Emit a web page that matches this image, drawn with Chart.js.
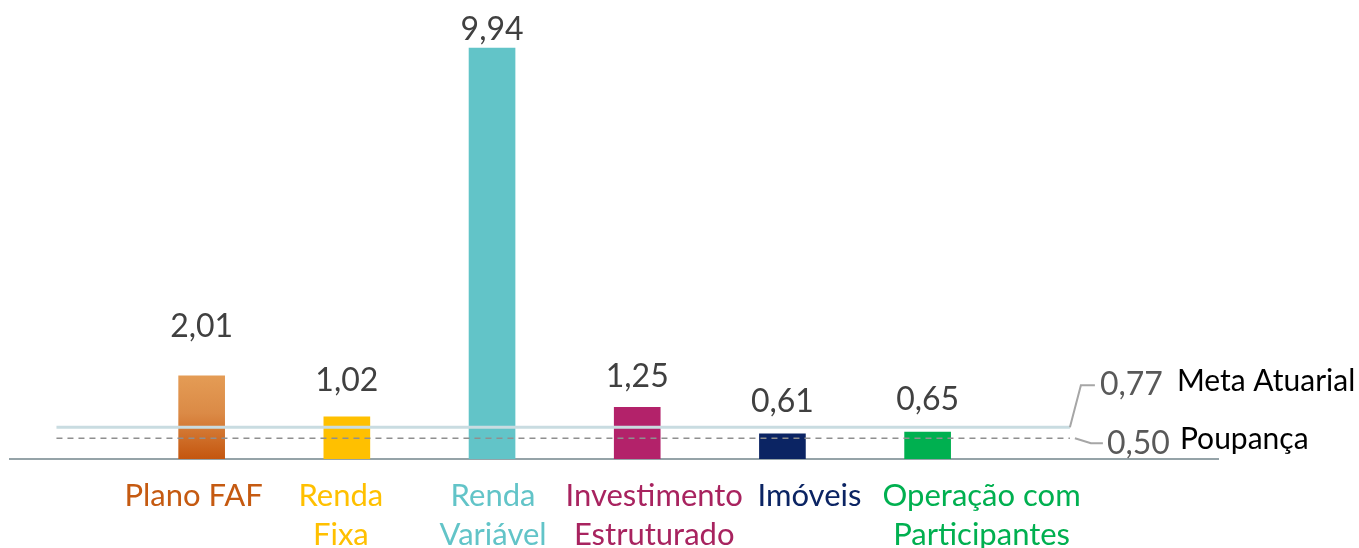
<!DOCTYPE html>
<html>
<head>
<meta charset="utf-8">
<script src="https://cdn.jsdelivr.net/npm/chart.js@4.4.1/dist/chart.umd.min.js"></script>
<style>
  html, body { margin: 0; padding: 0; background: #fff; }
</style>
</head>
<body>
<canvas id="chart" width="1359" height="548"></canvas>
<script>
// --- data ---
var categories = [
  ['Plano FAF'],
  ['Renda', 'Fixa'],
  ['Renda', 'Variável'],
  ['Investimento', 'Estruturado'],
  ['Imóveis'],
  ['Operação com', 'Participantes']
];
var returns = [2.01, 1.02, 9.94, 1.25, 0.61, 0.65];
var metaAtuarial = 0.77;
var poupanca = 0.50;
var refLabels = ['Meta Atuarial', 'Poupança'];

(function(Chart) {
  'use strict';

  var styling = {
    barColors: ['#C55A11', '#FFC000', '#62C4C8', '#B3226A', '#0B2463', '#00B050'],
    labelColors: ['#C55A11', '#FFC000', '#62C4C8', '#A8235F', '#0B2463', '#00B050'],
    // hand placed offsets, as in the original slide
    valueGap: [49, 36, 18, 31, 32, 32],
    labelShift: [-8, -6, 1, 17, 27, 54],
    font: 'Lato, "Open Sans", sans-serif',
    refStart: 0,
    refEnd: 6.98
  };

  function fmt(v) {
    return v.toFixed(2).replace('.', ',');
  }

  function barColor(ctx) {
    var i = ctx.dataIndex;
    if (i !== 0) return styling.barColors[i];
    var chart = ctx.chart, y = chart.scales.y;
    if (!chart.chartArea || !y) return styling.barColors[0];
    var g = chart.ctx.createLinearGradient(0, y.getPixelForValue(returns[0]), 0, y.getPixelForValue(0));
    g.addColorStop(0, '#E49C55');
    g.addColorStop(0.45, '#DB8A46');
    g.addColorStop(1, '#C4560F');
    return g;
  }

  var overlay = {
    id: 'overlay',
    afterDatasetsDraw: function(chart) {
      var ctx = chart.ctx;
      var xs = chart.scales.x, ys = chart.scales.y;
      var bars = chart.getDatasetMeta(2).data;
      var base = chart.chartArea.bottom;

      ctx.save();
      ctx.textAlign = 'center';
      ctx.textBaseline = 'middle';

      // values above bars
      ctx.font = '32px ' + styling.font;
      ctx.fillStyle = '#404040';
      bars.forEach(function(bar, i) {
        ctx.fillText(fmt(returns[i]), bar.x, bar.y - styling.valueGap[i]);
      });

      // category labels
      ctx.font = '31px ' + styling.font;
      categories.forEach(function(lines, i) {
        ctx.fillStyle = styling.labelColors[i];
        lines.forEach(function(line, j) {
          ctx.fillText(line, bars[i].x + styling.labelShift[i], base + 37 + j * 39);
        });
      });

      // leaders to reference labels
      var ex = xs.getPixelForValue(styling.refEnd);
      var my = ys.getPixelForValue(metaAtuarial);
      var py = ys.getPixelForValue(poupanca);

      ctx.strokeStyle = '#A6A6A6';
      ctx.lineWidth = 2;
      ctx.beginPath();
      ctx.moveTo(ex, my);
      ctx.lineTo(ex + 11, my - 42);
      ctx.lineTo(ex + 25, my - 42);
      ctx.stroke();

      ctx.beginPath();
      ctx.moveTo(ex + 5, py);
      ctx.lineTo(ex + 21, py + 5);
      ctx.lineTo(ex + 33, py + 5);
      ctx.stroke();

      ctx.textAlign = 'left';
      ctx.font = '32px ' + styling.font;
      ctx.fillStyle = '#595959';
      ctx.fillText(fmt(metaAtuarial), ex + 30, my - 42);
      ctx.fillText(fmt(poupanca), ex + 37, py + 5);

      ctx.font = '30px ' + styling.font;
      ctx.fillStyle = '#000';
      ctx.fillText(refLabels[0], ex + 107, my - 46);
      ctx.fillText(refLabels[1], ex + 110, py + 1);

      ctx.restore();
    }
  };

  new Chart(document.getElementById('chart'), {
    data: {
      datasets: [{
        type: 'line',
        order: 0,
        data: [{ x: styling.refStart, y: metaAtuarial }, { x: styling.refEnd, y: metaAtuarial }],
        borderColor: '#C9DCE1',
        borderWidth: 3,
        pointRadius: 0
      }, {
        type: 'line',
        order: 0,
        data: [{ x: styling.refStart, y: poupanca }, { x: styling.refEnd, y: poupanca }],
        borderColor: '#8F8F8F',
        borderWidth: 1.5,
        borderDash: [6, 5],
        pointRadius: 0
      }, {
        type: 'bar',
        order: 1,
        data: returns.map(function(v, i) { return { x: i + 1, y: v }; }),
        backgroundColor: barColor,
        barThickness: 46
      }]
    },
    options: {
      responsive: false,
      animation: false,
      layout: { padding: { left: 10, right: 141, top: 0, bottom: 89 } },
      plugins: { legend: { display: false }, tooltip: { enabled: false } },
      scales: {
        x: {
          type: 'linear',
          offset: false,
          min: -0.32,
          max: 8.0,
          grid: { display: false, drawTicks: false },
          ticks: { display: false },
          border: { display: true, color: '#95A3A8', width: 2 }
        },
        y: {
          display: false,
          min: 0,
          max: 11.1
        }
      }
    },
    plugins: [overlay]
  });
}(Chart));
</script>
</body>
</html>
